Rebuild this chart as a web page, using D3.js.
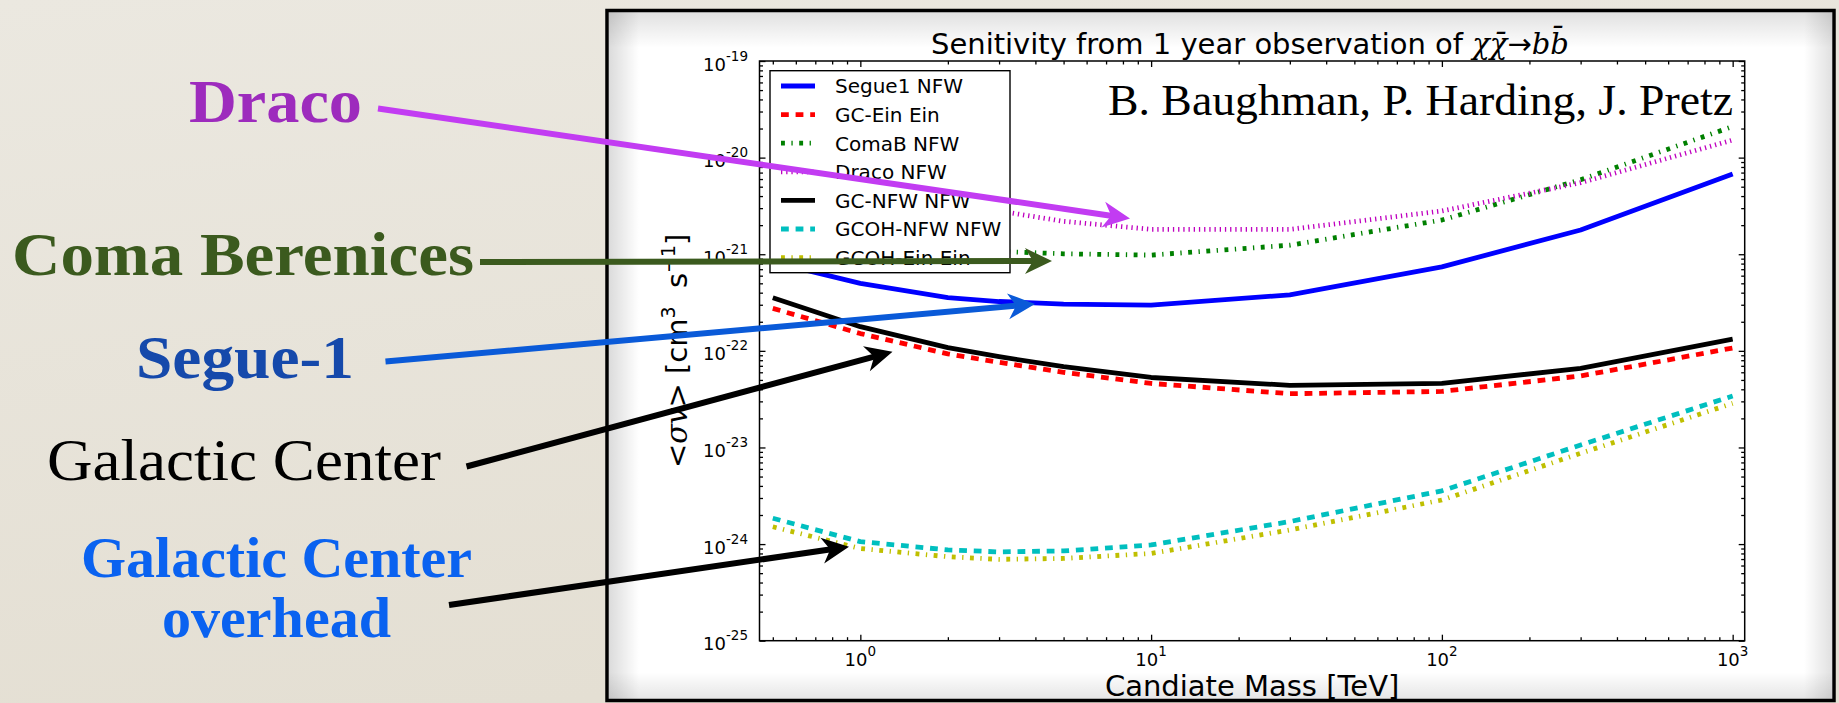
<!DOCTYPE html>
<html>
<head>
<meta charset="utf-8">
<script src="https://cdn.jsdelivr.net/npm/d3@7"></script>
<style>
  html, body { margin: 0; padding: 0; background: #e8e4da; overflow: hidden; }
  svg { display: block; }
</style>
</head>
<body>
<svg id="chart" width="1839" height="703"></svg>
<script>
// ---- data: annihilation cross-section sensitivity vs. candidate mass ----
const masses      = [0.5, 1, 2, 3, 5, 10, 30, 100, 300, 1000];   // TeV
const segue1Nfw   = [8.3e-22, 5.0e-22, 3.55e-22, 3.24e-22, 3.05e-22, 2.98e-22, 3.8e-22, 7.4e-22, 1.78e-21, 6.76e-21];
const gcEinEin    = [2.75e-22, 1.51e-22, 9.3e-23, 7.6e-23, 6.0e-23, 4.6e-23, 3.6e-23, 3.8e-23, 5.5e-23, 1.07e-22];
const comaBNfw    = [2.6e-21, 1.75e-21, 1.25e-21, 1.07e-21, 1.01e-21, 9.8e-22, 1.24e-21, 2.26e-21, 5.9e-21, 2.1e-20];
const dracoNfw    = [8.0e-21, 5.0e-21, 3.4e-21, 2.8e-21, 2.19e-21, 1.81e-21, 1.81e-21, 2.8e-21, 5.5e-21, 1.52e-20];
const gcNfwNfw    = [3.55e-22, 1.78e-22, 1.08e-22, 8.7e-23, 6.85e-23, 5.3e-23, 4.4e-23, 4.6e-23, 6.6e-23, 1.32e-22];
const gcohNfwNfw  = [1.85e-24, 1.06e-24, 8.7e-25, 8.3e-25, 8.5e-25, 9.8e-25, 1.71e-24, 3.56e-24, 1.06e-23, 3.41e-23];
const gcohEinEin  = [1.51e-24, 9.0e-25, 7.4e-25, 6.95e-25, 7.1e-25, 8.0e-25, 1.40e-24, 2.86e-24, 8.7e-24, 2.86e-23];

const seriesNames = ["Segue1 NFW", "GC-Ein Ein", "ComaB NFW", "Draco NFW", "GC-NFW NFW", "GCOH-NFW NFW", "GCOH-Ein Ein"];
const seriesValues = [segue1Nfw, gcEinEin, comaBNfw, dracoNfw, gcNfwNfw, gcohNfwNfw, gcohEinEin];

const xTickExponents = [0, 1, 2, 3];
const yTickExponents = [-25, -24, -23, -22, -21, -20, -19];

const titleText = "Senitivity from 1 year observation of ";
const xLabelText = "Candiate Mass [TeV]";
const authorsText = "B. Baughman, P. Harding, J. Pretz";

// ---- styles ----
const LW = 4.8;
const seriesStyles = [
  { color: "#0000ff", dash: null },
  { color: "#ff0000", dash: "7.8,6.8" },
  { color: "#008000", dash: "3.9,6.5,1.3,6.5" },
  { color: "#bf00bf", dash: "1.3,3.9" },
  { color: "#000000", dash: null },
  { color: "#00bfbf", dash: "7.8,6.8" },
  { color: "#bfbf00", dash: "3.9,6.5,1.3,6.5" }
];

const W = 1839, H = 703;
const plot = { left: 759.5, right: 1744.7, top: 61, bottom: 640.7 };
const svg = d3.select("#chart");
const defs = svg.append("defs");

// slide background
const bg = defs.append("linearGradient").attr("id", "bgGrad")
  .attr("x1", 0).attr("y1", 0).attr("x2", 0.3).attr("y2", 1);
bg.append("stop").attr("offset", 0).attr("stop-color", "#ebe8e0");
bg.append("stop").attr("offset", 1).attr("stop-color", "#e4dfd3");
svg.append("rect").attr("width", W).attr("height", H).attr("fill", "url(#bgGrad)");

// white panel with inner shading
const panel = { x: 607, y: 10.5, w: 1227, h: 690 };
svg.append("rect").attr("x", panel.x).attr("y", panel.y)
  .attr("width", panel.w).attr("height", panel.h).attr("fill", "#ffffff");

function edgeGrad(id, x1, y1, x2, y2, a) {
  const g = defs.append("linearGradient").attr("id", id)
    .attr("x1", x1).attr("y1", y1).attr("x2", x2).attr("y2", y2);
  g.append("stop").attr("offset", 0).attr("stop-color", "#000").attr("stop-opacity", a);
  g.append("stop").attr("offset", 1).attr("stop-color", "#000").attr("stop-opacity", 0);
}
edgeGrad("shTop", 0, 0, 0, 1, 0.12);
edgeGrad("shLeft", 0, 0, 1, 0, 0.14);
edgeGrad("shRight", 1, 0, 0, 0, 0.12);
edgeGrad("shBottom", 0, 1, 0, 0, 0.10);
svg.append("rect").attr("x", 609).attr("y", 12).attr("width", 1223).attr("height", 36).attr("fill", "url(#shTop)");
svg.append("rect").attr("x", 609).attr("y", 12).attr("width", 30).attr("height", 687).attr("fill", "url(#shLeft)");
svg.append("rect").attr("x", 1804).attr("y", 12).attr("width", 28).attr("height", 687).attr("fill", "url(#shRight)");
svg.append("rect").attr("x", 609).attr("y", 672).attr("width", 1223).attr("height", 27).attr("fill", "url(#shBottom)");
svg.append("rect").attr("x", panel.x).attr("y", panel.y)
  .attr("width", panel.w).attr("height", panel.h)
  .attr("fill", "none").attr("stroke", "#000").attr("stroke-width", 3.5);

// ---- scales ----
const x = d3.scaleLog().domain([0.45, 1100]).range([plot.left, plot.right]);
const y = d3.scaleLog().domain([1e-25, 1e-19]).range([plot.bottom, plot.top]);

// ---- curves ----
const lineGen = d3.line().x(d => x(d[0])).y(d => y(d[1]));
const curves = svg.append("g");
seriesValues.forEach((vals, i) => {
  const pts = masses.map((m, j) => [m, vals[j]]);
  const st = seriesStyles[i];
  curves.append("path").attr("d", lineGen(pts))
    .attr("fill", "none").attr("stroke", st.color).attr("stroke-width", LW)
    .attr("stroke-dasharray", st.dash).attr("stroke-linejoin", "round");
});

// ---- axes ----
const xMajors = xTickExponents.map(e => Math.pow(10, e));
const xMinors = [];
for (let e = -1; e <= 3; e++) for (let k = 2; k <= 9; k++) {
  const v = k * Math.pow(10, e);
  if (v >= 0.45 && v <= 1100) xMinors.push(v);
}
const yMajors = yTickExponents.map(e => Math.pow(10, e));
const yMinors = [];
for (let e = -25; e < -19; e++) for (let k = 2; k <= 9; k++) yMinors.push(k * Math.pow(10, e));

function tickAxis(axisFn, scale, values, size, transform) {
  svg.append("g").attr("transform", transform)
    .call(axisFn(scale).tickValues(values).tickSize(-size).tickFormat(""))
    .call(g => g.select(".domain").remove())
    .call(g => g.selectAll(".tick line").attr("stroke", "#000").attr("stroke-width", 1.3));
}
tickAxis(d3.axisBottom, x, xMajors, 6, `translate(0,${plot.bottom})`);
tickAxis(d3.axisBottom, x, xMinors, 3.5, `translate(0,${plot.bottom})`);
tickAxis(d3.axisTop, x, xMajors, 6, `translate(0,${plot.top})`);
tickAxis(d3.axisTop, x, xMinors, 3.5, `translate(0,${plot.top})`);
tickAxis(d3.axisLeft, y, yMajors, 6, `translate(${plot.left},0)`);
tickAxis(d3.axisLeft, y, yMinors, 3.5, `translate(${plot.left},0)`);
tickAxis(d3.axisRight, y, yMajors, 6, `translate(${plot.right},0)`);
tickAxis(d3.axisRight, y, yMinors, 3.5, `translate(${plot.right},0)`);

svg.append("rect").attr("x", plot.left).attr("y", plot.top)
  .attr("width", plot.right - plot.left).attr("height", plot.bottom - plot.top)
  .attr("fill", "none").attr("stroke", "#000").attr("stroke-width", 1.5);

// tick labels as 10^n
const font = "DejaVu Sans";
xTickExponents.forEach(e => {
  const t = svg.append("text").attr("x", x(Math.pow(10, e))).attr("y", 665.5)
    .attr("text-anchor", "middle").attr("font-family", font).attr("font-size", 18).attr("fill", "#000");
  t.append("tspan").text("10");
  t.append("tspan").attr("font-size", 13.5).attr("dy", -10).text(String(e));
});
yTickExponents.forEach(e => {
  const t = svg.append("text").attr("x", 748).attr("y", y(Math.pow(10, e)) + 9.5)
    .attr("text-anchor", "end").attr("font-family", font).attr("font-size", 18).attr("fill", "#000");
  t.append("tspan").text("10");
  t.append("tspan").attr("font-size", 13.5).attr("dy", -10).text(String(e));
});

// axis labels
svg.append("text").attr("x", (plot.left + plot.right) / 2).attr("y", 695.5)
  .attr("text-anchor", "middle").attr("font-family", font).attr("font-size", 29)
  .text(xLabelText);

const yl = svg.append("text")
  .attr("transform", `translate(687,${(plot.top + plot.bottom) / 2}) rotate(-90)`)
  .attr("text-anchor", "middle").attr("font-family", font).attr("font-size", 29);
yl.append("tspan").text("<");
yl.append("tspan").attr("font-family", "DejaVu Serif").attr("font-style", "italic").text("σv");
yl.append("tspan").text("> [cm");
yl.append("tspan").attr("font-size", 19).attr("dy", -12).text("3");
yl.append("tspan").attr("dy", 12).text("\u00a0 s");
yl.append("tspan").attr("font-size", 19).attr("dy", -12).text("−1");
yl.append("tspan").attr("dy", 12).text("]");

// title
const title = svg.append("text").attr("x", 931).attr("y", 54)
  .attr("font-family", font).attr("font-size", 29).attr("fill", "#000");
title.append("tspan").text(titleText);
title.append("tspan").attr("font-family", "DejaVu Serif").attr("font-style", "italic").text("χχ\u0304");
title.append("tspan").text("→");
title.append("tspan").attr("font-family", "DejaVu Serif").attr("font-style", "italic").text("bb\u0304");

// ---- legend ----
const legend = { x: 770, y: 70.7, w: 240, h: 202, row0: 86, rowGap: 28.6 };
svg.append("rect").attr("x", legend.x).attr("y", legend.y)
  .attr("width", legend.w).attr("height", legend.h)
  .attr("fill", "#fff").attr("stroke", "#000").attr("stroke-width", 1.4);
seriesNames.forEach((name, i) => {
  const cy = legend.row0 + i * legend.rowGap;
  const st = seriesStyles[i];
  svg.append("line").attr("x1", 781).attr("x2", 815).attr("y1", cy).attr("y2", cy)
    .attr("stroke", st.color).attr("stroke-width", LW).attr("stroke-dasharray", st.dash);
  svg.append("text").attr("x", 835).attr("y", cy + 7.3)
    .attr("font-family", font).attr("font-size", 20).attr("fill", "#000").text(name);
});

// authors
svg.append("text").attr("x", 1108).attr("y", 115)
  .attr("font-family", "Liberation Serif").attr("font-size", 45)
  .attr("textLength", 625).attr("lengthAdjust", "spacingAndGlyphs")
  .attr("fill", "#000").text(authorsText);

// ---- slide annotations ----
const serif = "Liberation Serif";
const notes = [
  { text: "Draco", x: 189, y: 121.7, size: 62, weight: "bold", color: "#9d2bbd", len: 173 },
  { text: "Coma Berenices", x: 12, y: 275, size: 62, weight: "bold", color: "#3b5a1e", len: 462 },
  { text: "Segue-1", x: 136, y: 378, size: 62, weight: "bold", color: "#1549ab", len: 218 },
  { text: "Galactic Center", x: 47, y: 480, size: 60, weight: "normal", color: "#000000", len: 394 },
  { text: "Galactic Center", x: 81, y: 576.7, size: 56, weight: "bold", color: "#0a62f0", len: 391 },
  { text: "overhead", x: 162, y: 636.7, size: 56, weight: "bold", color: "#0a62f0", len: 229 }
];
notes.forEach(n => {
  svg.append("text").attr("x", n.x).attr("y", n.y)
    .attr("font-family", serif).attr("font-size", n.size).attr("font-weight", n.weight)
    .attr("fill", n.color).attr("textLength", n.len).attr("lengthAdjust", "spacingAndGlyphs")
    .text(n.text);
});

const arrows = [
  { from: [378, 108.5], to: [1130, 218.5], color: "#c23cf2" },
  { from: [480, 262], to: [1052, 261], color: "#3b5a1e" },
  { from: [385.5, 361.5], to: [1035, 304], color: "#0a5ad8" },
  { from: [466.5, 466.5], to: [892.5, 351.7], color: "#000000" },
  { from: [449, 605], to: [849, 546.7], color: "#000000" }
];
const ag = svg.append("g");
arrows.forEach(a => {
  const [x1, y1] = a.from, [x2, y2] = a.to;
  const ang = Math.atan2(y2 - y1, x2 - x1);
  const back = 16;
  ag.append("line").attr("x1", x1).attr("y1", y1)
    .attr("x2", x2 - back * Math.cos(ang)).attr("y2", y2 - back * Math.sin(ang))
    .attr("stroke", a.color).attr("stroke-width", 6);
  ag.append("path").attr("d", "M0,0 L-27,-13 L-19,0 L-27,13 Z")
    .attr("transform", `translate(${x2},${y2}) rotate(${ang * 180 / Math.PI})`)
    .attr("fill", a.color);
});
</script>
</body>
</html>
